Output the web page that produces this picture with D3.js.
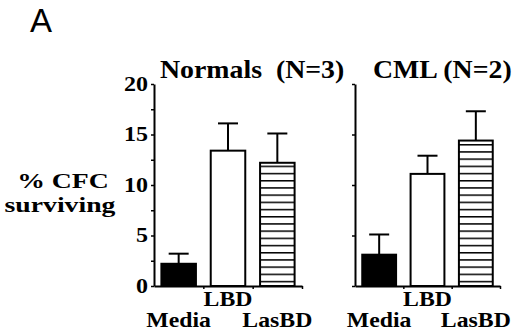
<!DOCTYPE html>
<html>
<head>
<meta charset="utf-8">
<script src="https://cdn.jsdelivr.net/npm/d3@7"></script>
<style>
  body { margin: 0; background: #fff; }
</style>
</head>
<body>
<div id="chart"></div>
<script>
// values (mean and error bar length)
const categories = ["Media", "LBD", "LasBD"];
const normalsMeans = [2.2, 13.4, 12.2];
const normalsErrors = [1.0, 2.7, 2.9];
const cmlMeans = [3.1, 11.1, 14.4];
const cmlErrors = [2.0, 1.8, 2.9];
const majorTicks = [0, 5, 10, 15, 20];
const minorTicks = [2.5, 7.5, 12.5, 17.5];
const panelTitles = ["Normals  (N=3)", "CML (N=2)"];

const serif = "'Liberation Serif', 'Times New Roman', Times, serif";

const width = 520, height = 331;
const svg = d3.select("#chart").append("svg")
    .attr("width", width)
    .attr("height", height);

// stripe pattern for the LasBD bars
svg.append("defs").append("pattern")
    .attr("id", "stripes")
    .attr("patternUnits", "userSpaceOnUse")
    .attr("width", 8)
    .attr("height", 7.2)
    .append("rect")
    .attr("x", 0).attr("y", 0)
    .attr("width", 8).attr("height", 1.5)
    .attr("fill", "#000");

// bold serif, stretched sideways like in the figure
function serifText(sel, size, k) {
    sel.attr("font-family", null).attr("font-size", null)
        .style("font-family", serif)
        .style("font-weight", "bold")
        .style("font-size", size + "px")
        .style("fill", "#000");
    sel.each(function() {
        const w = this.getComputedTextLength();
        d3.select(this).attr("textLength", w * k).attr("lengthAdjust", "spacingAndGlyphs");
    });
}

const y = d3.scaleLinear().domain([0, 20]).range([286, 84]);

function drawPanel(x0, x1, means, errors, title, titleX, withLabels) {
    const g = svg.append("g");
    const x = d3.scaleBand()
        .domain(categories)
        .range([x0, x1])
        .paddingInner(0.3)
        .paddingOuter(0.15);

    // y axis
    const yAxis = d3.axisLeft(y)
        .tickValues(withLabels ? majorTicks.concat(minorTicks) : majorTicks)
        .tickSize(3)
        .tickSizeOuter(0)
        .tickPadding(3)
        .tickFormat(d => (withLabels && d % 5 === 0) ? d : "");
    const ya = g.append("g")
        .attr("transform", `translate(${x0},0)`)
        .call(yAxis);
    ya.attr("font-family", null);
    ya.select(".domain").attr("stroke-width", 2);
    ya.selectAll(".tick line").attr("stroke-width", 1.5);
    serifText(ya.selectAll(".tick text"), 20, 1.2);

    // x axis with small marks between bars
    const xb = d3.scaleLinear().domain([0, 3]).range([x0, x1]);
    const xa = g.append("g")
        .attr("transform", `translate(0,${y(0)})`)
        .call(d3.axisBottom(xb).tickValues([1, 2, 3]).tickSize(3).tickSizeOuter(0).tickFormat(""));
    xa.select(".domain").attr("stroke-width", 2);
    xa.selectAll(".tick line").attr("stroke-width", 1.5);

    // error bars
    const eb = g.selectAll(".err").data(categories).enter().append("g");
    eb.append("line")
        .attr("x1", d => x(d) + x.bandwidth() / 2)
        .attr("x2", d => x(d) + x.bandwidth() / 2)
        .attr("y1", (d, i) => y(means[i]))
        .attr("y2", (d, i) => y(means[i] + errors[i]))
        .attr("stroke", "#000").attr("stroke-width", 2);
    eb.append("line")
        .attr("x1", d => x(d) + x.bandwidth() / 2 - 10)
        .attr("x2", d => x(d) + x.bandwidth() / 2 + 10)
        .attr("y1", (d, i) => y(means[i] + errors[i]))
        .attr("y2", (d, i) => y(means[i] + errors[i]))
        .attr("stroke", "#000").attr("stroke-width", 2);

    // bars
    g.selectAll(".bar").data(categories).enter().append("rect")
        .attr("x", d => x(d))
        .attr("y", (d, i) => y(means[i]))
        .attr("width", x.bandwidth())
        .attr("height", (d, i) => y(0) - y(means[i]))
        .attr("fill", (d, i) => i === 0 ? "#000" : i === 2 ? "url(#stripes)" : "#fff")
        .attr("stroke", "#000")
        .attr("stroke-width", 2);

    // category labels, LBD sits one line higher
    const cl = g.selectAll(".cat").data(categories).enter().append("text")
        .attr("x", d => x(d) + x.bandwidth() / 2)
        .attr("y", (d, i) => i === 1 ? 306 : 327)
        .attr("text-anchor", "middle")
        .text(d => d);
    serifText(cl, 21, 1.13);

    const t = g.append("text")
        .attr("x", titleX)
        .attr("y", 78)
        .style("white-space", "pre")
        .text(title);
    serifText(t, 26, 1.07);
}

drawPanel(154, 302, normalsMeans, normalsErrors, panelTitles[0], 160, true);
drawPanel(355, 500, cmlMeans, cmlErrors, panelTitles[1], 373, false);

// y axis label
const yl1 = svg.append("text").attr("x", 63).attr("y", 188)
    .attr("text-anchor", "middle").text("% CFC");
serifText(yl1, 22, 1.26);
const yl2 = svg.append("text").attr("x", 60).attr("y", 212)
    .attr("text-anchor", "middle").text("surviving");
serifText(yl2, 22, 1.26);

// panel letter
svg.append("text")
    .attr("x", 41)
    .attr("y", 32)
    .attr("text-anchor", "middle")
    .style("font-family", "'Liberation Sans', Arial, sans-serif")
    .style("font-size", "33px")
    .text("A");
</script>
</body>
</html>
